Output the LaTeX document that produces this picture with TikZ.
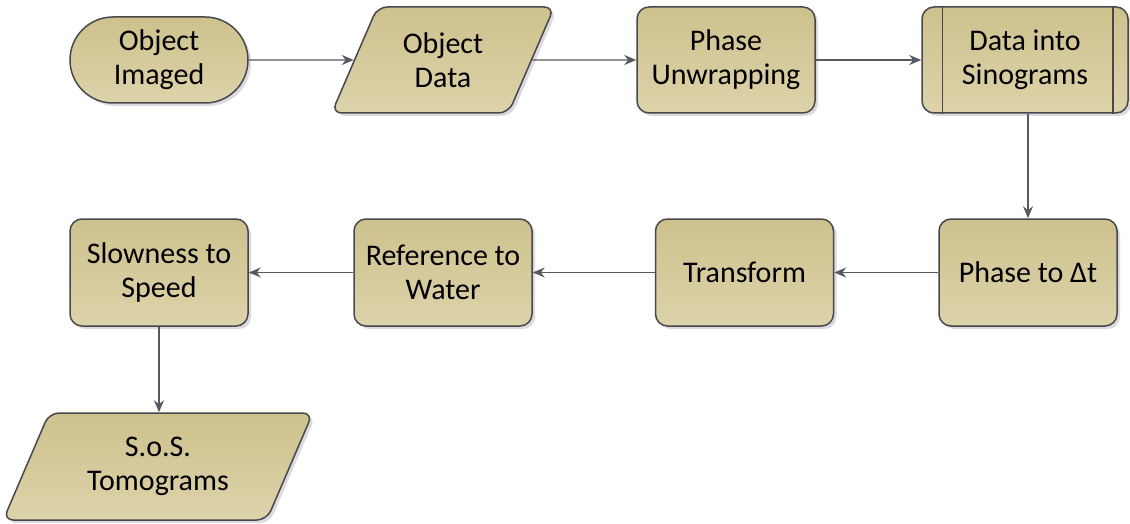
\documentclass[tikz,border=0pt]{standalone}
\usepackage{fontspec}
\setmainfont{Carlito}
\usetikzlibrary{shapes.geometric,shapes.misc,shadows,arrows.meta}

\definecolor{tanTop}{RGB}{205,193,141}
\definecolor{tanBot}{RGB}{221,211,170}
\definecolor{edgeGray}{RGB}{72,72,76}
\definecolor{flowGray}{RGB}{88,88,96}
\definecolor{shadowGray}{RGB}{150,150,165}

\tikzset{
  base/.style={draw=edgeGray, line width=1.5pt, top color=tanTop, bottom color=tanBot,
    align=center, inner sep=0pt, text=black,
    font=\fontsize{30}{34}\selectfont,
    drop shadow={shadow xshift=3pt, shadow yshift=-3pt, opacity=0.35, fill=shadowGray}},
  procbox/.style={base, rectangle, rounded corners=12pt, minimum width=178pt, minimum height=107pt},
  termbox/.style={base, rounded rectangle, minimum width=178pt, minimum height=86pt},
  iobox/.style={base, trapezium, trapezium left angle=63, trapezium right angle=117,
    trapezium stretches=true, rounded corners=10pt},
  flow/.style={draw=flowGray, line width=1.4pt, -{Stealth[length=12pt,width=10pt,inset=4pt]}}
}

\begin{document}
\begin{tikzpicture}[x=1pt,y=-1pt]
  \useasboundingbox (0,0) rectangle (1130,524);

  % top row
  \node[termbox] (imaged) at (159,60) {Object\\Imaged};
  \node[iobox, minimum width=223pt, minimum height=106pt] (data) at (443,60) {Object\\Data};
  \node[procbox, minimum height=106pt] (unwrap) at (726,60) {Phase\\Unwrapping};
  \node[procbox, minimum width=206pt, minimum height=106pt] (sino) at (1025,60) {Data into\\Sinograms};
  \draw[draw=edgeGray, line width=1.5pt]
    ([xshift=21pt]sino.north west) -- ([xshift=21pt]sino.south west)
    ([xshift=-16pt]sino.north east) -- ([xshift=-16pt]sino.south east);

  % middle row
  \node[procbox] (dt) at (1028,272.5) {Phase to Δt};
  \node[procbox] (trans) at (744.5,272.5) {Transform};
  \node[procbox] (water) at (443,272.5) {Reference to\\Water};
  \node[procbox] (speed) at (159,272.5) {Slowness to\\Speed};

  % output
  \node[iobox, minimum width=310pt, minimum height=107pt] (tomo) at (158,466.5) {S.o.S.\\Tomograms};

  % connectors
  \draw[flow] (imaged) -- (data);
  \draw[flow] (data) -- (unwrap);
  \draw[flow] (unwrap) -- (sino);
  \draw[flow] (sino.south -| dt.north) -- (dt.north);
  \draw[flow] (dt) -- (trans);
  \draw[flow] (trans) -- (water);
  \draw[flow] (water) -- (speed);
  \draw[flow] (speed.south) -- (speed.south |- tomo.north);
\end{tikzpicture}
\end{document}
